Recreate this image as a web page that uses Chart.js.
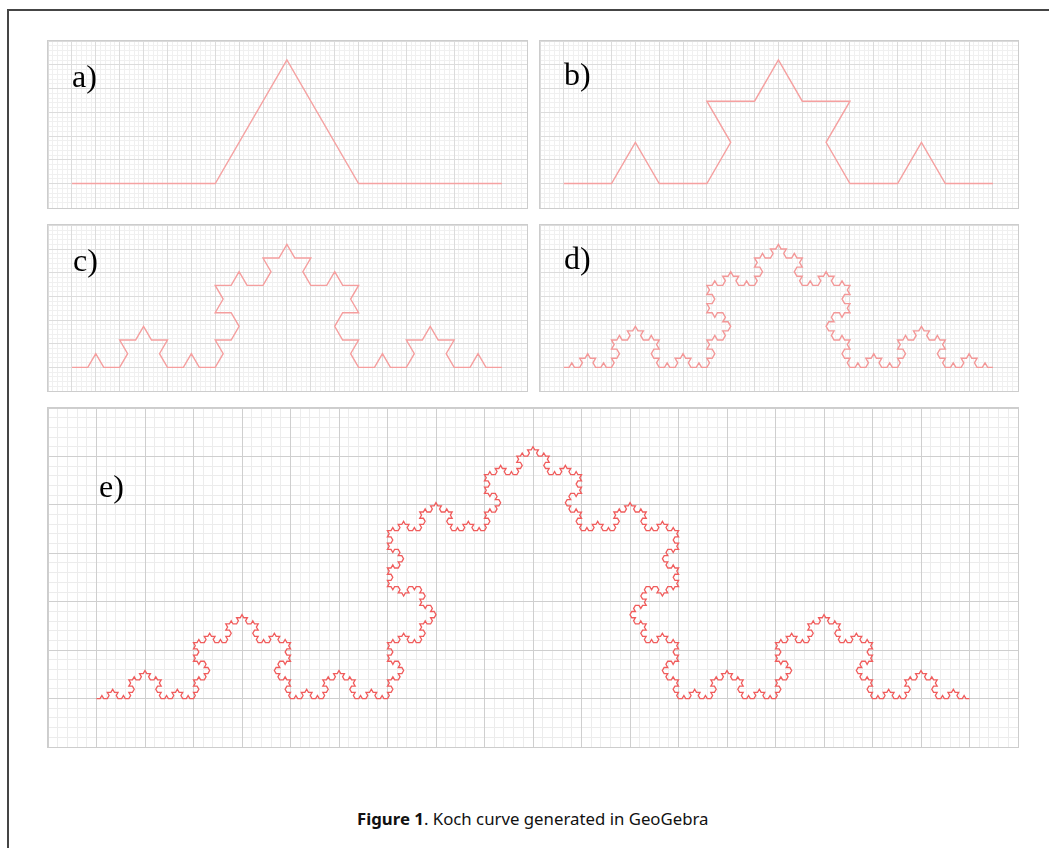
<!DOCTYPE html>
<html>
<head>
<meta charset="utf-8">
<script src="https://cdn.jsdelivr.net/npm/chart.js@4.4.1/dist/chart.umd.min.js"></script>
<style>
  html, body { margin: 0; padding: 0; background: #fff; }
  body { width: 1049px; height: 848px; position: relative; overflow: hidden; }
  .frame { position: absolute; left: 7px; top: 9px; width: 1100px; height: 900px;
           border-top: 2px solid #454545; border-left: 2px solid #454545; }
  .panel { position: absolute; border: 1px solid #cdcdcd; box-sizing: border-box; background: #fff; }
  .panel canvas { display: block; }
  .lbl { position: absolute; font-family: "Liberation Serif", "Times New Roman", serif;
         font-size: 32px; line-height: 32px; color: #000; white-space: nowrap; }
  .caption { position: absolute; left: 357px; top: 810px; font-family: "Noto Sans", "Open Sans", sans-serif;
             font-size: 16.8px; line-height: 17px; color: #111; white-space: nowrap; }
</style>
</head>
<body>
<div class="frame"></div>

<div class="panel" style="left:47px;top:40px;width:481px;height:169px"><canvas id="c0" width="479" height="167"></canvas></div>
<div class="panel" style="left:539px;top:40px;width:480px;height:169px"><canvas id="c1" width="478" height="167"></canvas></div>
<div class="panel" style="left:47px;top:224px;width:481px;height:168px"><canvas id="c2" width="479" height="166"></canvas></div>
<div class="panel" style="left:539px;top:224px;width:480px;height:168px"><canvas id="c3" width="478" height="166"></canvas></div>
<div class="panel" style="left:47px;top:407px;width:972px;height:341px"><canvas id="c4" width="970" height="339"></canvas></div>

<div class="lbl" style="left:72px;top:60px">a)</div>
<div class="lbl" style="left:564px;top:58px">b)</div>
<div class="lbl" style="left:73px;top:244px">c)</div>
<div class="lbl" style="left:564px;top:242px">d)</div>
<div class="lbl" style="left:99px;top:470px">e)</div>

<div class="caption"><b>Figure 1</b>. Koch curve generated in GeoGebra</div>

<script>
/***** DATA *****/
// generator read off panel a): start, thirds, apex, end (grid units)
const generatorX = [0, 6, 9, 12, 18];
const generatorY = [0, 0, 5.2, 0, 0];

const panelLabels = ["a)", "b)", "c)", "d)", "e)"];
const panelLevels = [1, 2, 3, 4, 5];

// visible window of each panel (grid units)
const panelXMin = [-1, -1, -1, -1, -1];
const panelXMax = [19.05, 19.05, 19.05, 19.05, 19];
const panelYMin = [-1.03, -1.03, -1, -1, -1];
const panelYMax = [6.0, 6.0, 6.02, 6.02, 6.0];

// curve stroke per panel
const panelColors = ["#f5a2a2", "#f5a0a0", "#f59e9e", "#f39898", "#f05c5c"];

/***** HELPERS *****/
// replace every segment by the generator (scaled + rotated)
function kochPoints(level){
  const len = generatorX[generatorX.length - 1];
  let pts = [[generatorX[0], generatorY[0]], [len, 0]];
  for (let l = 0; l < level; l++){
    const next = [pts[0]];
    for (let i = 0; i < pts.length - 1; i++){
      const [x0, y0] = pts[i], [x1, y1] = pts[i + 1];
      const dx = x1 - x0, dy = y1 - y0;
      for (let k = 1; k < generatorX.length; k++){
        const u = generatorX[k] / len, v = generatorY[k] / len;
        next.push([x0 + u*dx - v*dy, y0 + u*dy + v*dx]);
      }
    }
    pts = next;
  }
  return pts.map(([x, y]) => ({ x, y }));
}

function axis(axisName, pos, min, max, step, color, z){
  return {
    type: "linear", axis: axisName, position: pos, min, max,
    ticks: { display: false, stepSize: step },
    grid: { color, lineWidth: 1, drawTicks: false, z },
    border: { display: false }
  };
}

/***** RENDER *****/
panelLabels.forEach((lbl, i) => {
  const big = i === 4;
  const minor = big ? "#ececec" : "#f0f0f0";
  const major = big ? "#cfcfcf" : "#dcdcdc";
  new Chart(document.getElementById("c" + i), {
    type: "scatter",
    data: {
      datasets: [{
        label: lbl,
        data: kochPoints(panelLevels[i]),
        showLine: true,
        borderColor: panelColors[i],
        borderWidth: big ? 1.3 : 1.4,
        pointRadius: 0,
        fill: false,
        tension: 0
      }]
    },
    options: {
      responsive: false,
      animation: false,
      events: [],
      layout: { padding: 0 },
      plugins: { legend: { display: false }, tooltip: { enabled: false } },
      scales: {
        x:      axis("x", "bottom", panelXMin[i], panelXMax[i], 0.2, minor, -2),
        y:      axis("y", "left",   panelYMin[i], panelYMax[i], 0.2, minor, -2),
        xMajor: axis("x", "top",    panelXMin[i], panelXMax[i], 1,   major, -1),
        yMajor: axis("y", "right",  panelYMin[i], panelYMax[i], 1,   major, -1)
      }
    }
  });
});
</script>
</body>
</html>
